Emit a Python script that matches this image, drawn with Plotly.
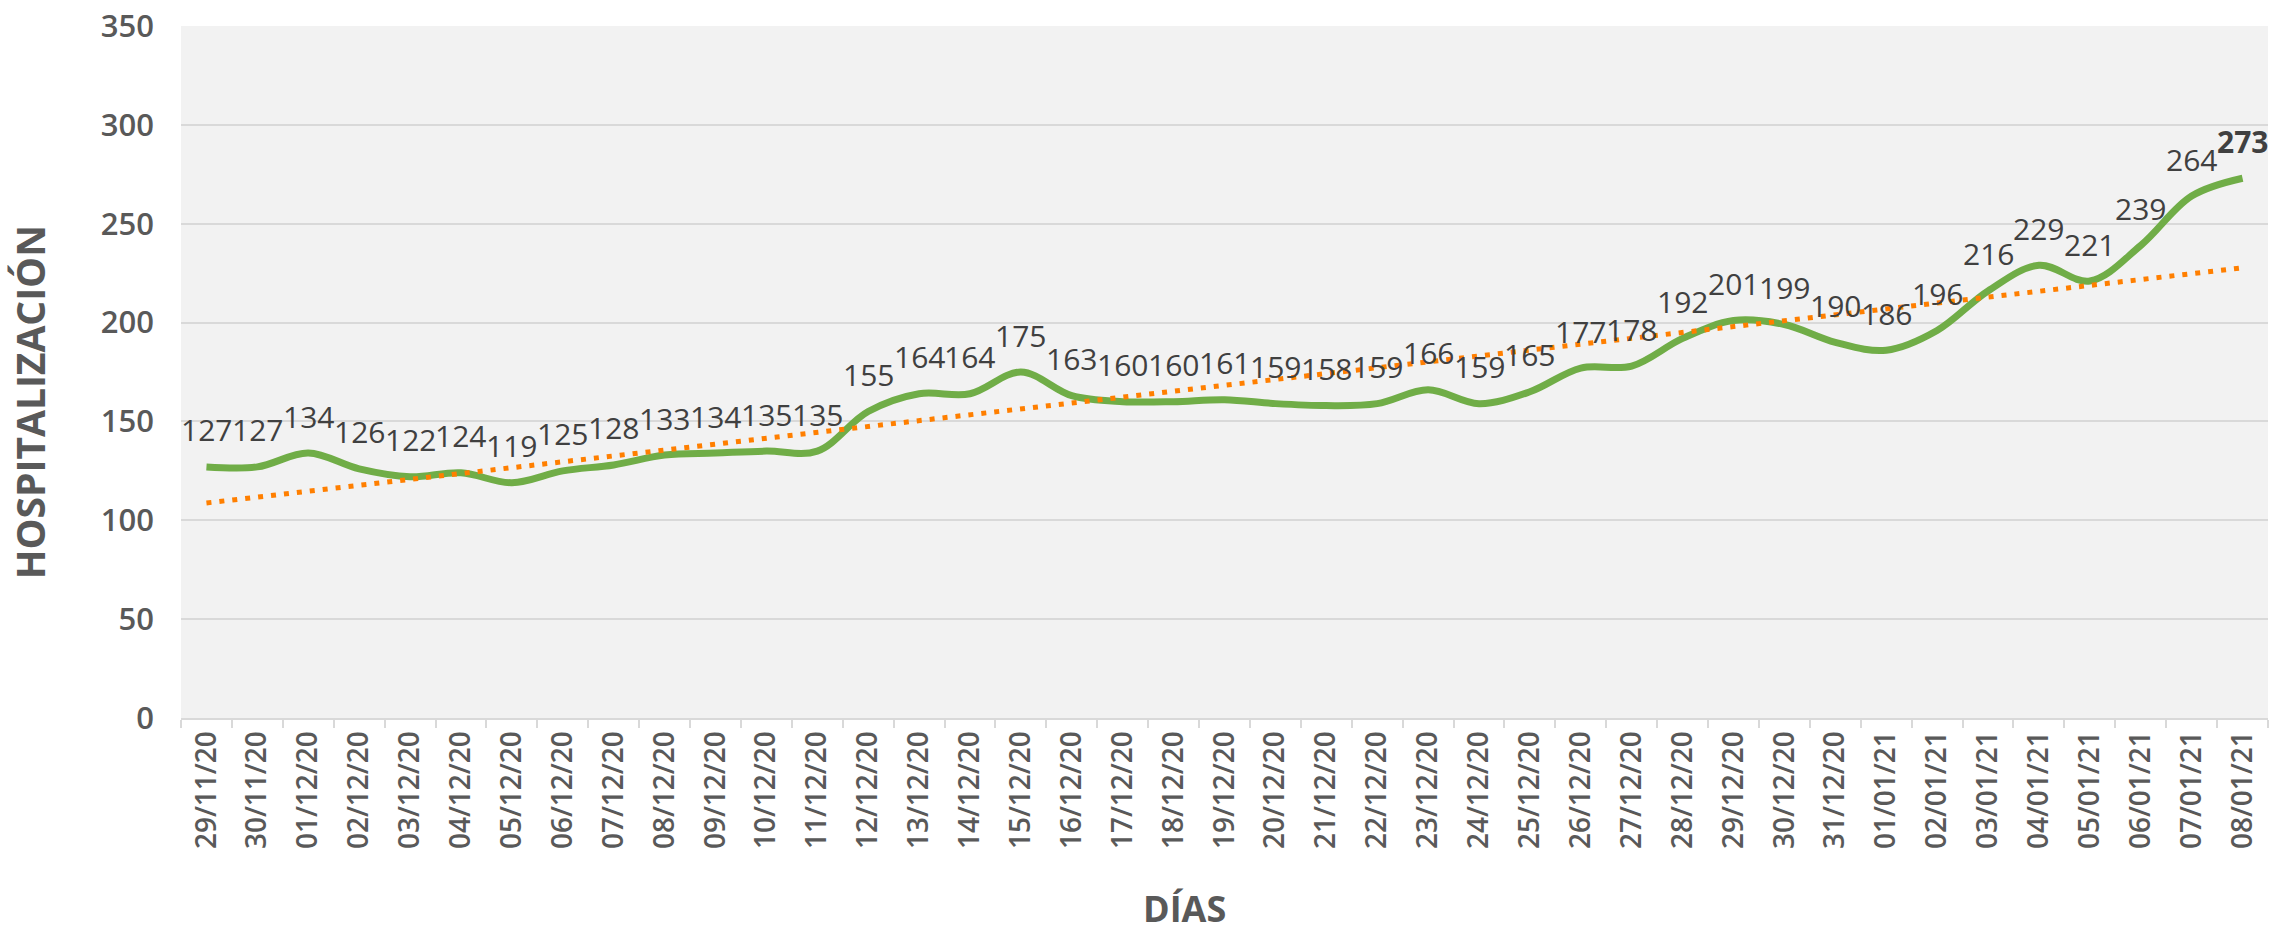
import numpy as np
import plotly.graph_objects as go

dias = ["29/11/20", "30/11/20"] + [f"{d:02d}/12/20" for d in range(1, 32)] + [f"{d:02d}/01/21" for d in range(1, 9)]
hospitalizacion = [127, 127, 134, 126, 122, 124, 119, 125, 128, 133,
                   134, 135, 135, 155, 164, 164, 175, 163, 160, 160,
                   161, 159, 158, 159, 166, 159, 165, 177, 178, 192,
                   201, 199, 190, 186, 196, 216, 229, 221, 239, 264,
                   273]
y_ticks = [0, 50, 100, 150, 200, 250, 300, 350]

idx = np.arange(len(dias))
slope, intercept = np.polyfit(idx, hospitalizacion, 1)
tendencia = slope * idx + intercept

FONT = "Open Sans"
GREY = "#595959"
LABEL = "#404040"

fig = go.Figure()
fig.add_trace(go.Scatter(
    x=dias, y=hospitalizacion, mode="lines",
    line=dict(color="#70ad47", width=7, shape="spline", smoothing=1.0),
    showlegend=False, hoverinfo="x+y"))
fig.add_trace(go.Scatter(
    x=dias, y=tendencia, mode="lines",
    line=dict(color="#ff7f00", width=5, dash="5px,8px"),
    showlegend=False, hoverinfo="skip"))

annotations = []
last = len(dias) - 1
for i, (d, v) in enumerate(zip(dias, hospitalizacion)):
    annotations.append(dict(
        x=d, y=v, xref="x", yref="y", text=str(v), showarrow=False,
        yshift=37, xanchor="center", yanchor="middle",
        font=dict(family=FONT, size=30, color=LABEL,
                  weight=700 if i == last else 400)))

annotations.append(dict(
    text="HOSPITALIZACIÓN", xref="paper", yref="paper",
    x=-0.0724, y=0.456, textangle=-90, showarrow=False,
    xanchor="center", yanchor="middle",
    font=dict(family=FONT, size=39, color=GREY, weight=700)))
annotations.append(dict(
    text="DÍAS", xref="paper", yref="paper",
    x=0.4806, y=-0.312, showarrow=False,
    xanchor="center", yanchor="bottom", borderpad=0,
    font=dict(family=FONT, size=36, color=GREY, weight=700)))

fig.update_layout(
    width=2272, height=939,
    margin=dict(l=181, r=4, t=23, b=221),
    paper_bgcolor="white", plot_bgcolor="#f2f2f2",
    annotations=annotations,
    xaxis=dict(
        type="category", range=[-0.5, len(dias) - 0.5],
        tickson="boundaries", ticks="outside", ticklen=8, tickwidth=2,
        tickcolor="#d9d9d9", showline=True, linecolor="#d9d9d9", linewidth=2,
        showgrid=False, tickangle=-90,
        tickfont=dict(family=FONT, size=28, color=GREY, weight=600)),
    yaxis=dict(
        range=[0, 350], tickvals=y_ticks, showgrid=True,
        gridcolor="#d9d9d9", gridwidth=2, zeroline=False, showline=False,
        ticks="", ticklabelstandoff=26,
        tickfont=dict(family=FONT, size=31, color=GREY, weight=600)),
)

fig.write_html(
    "out.html",
    config={"displayModeBar": False},
    post_script="document.body.style.margin='0';document.body.style.padding='0';document.body.style.overflow='hidden';")
